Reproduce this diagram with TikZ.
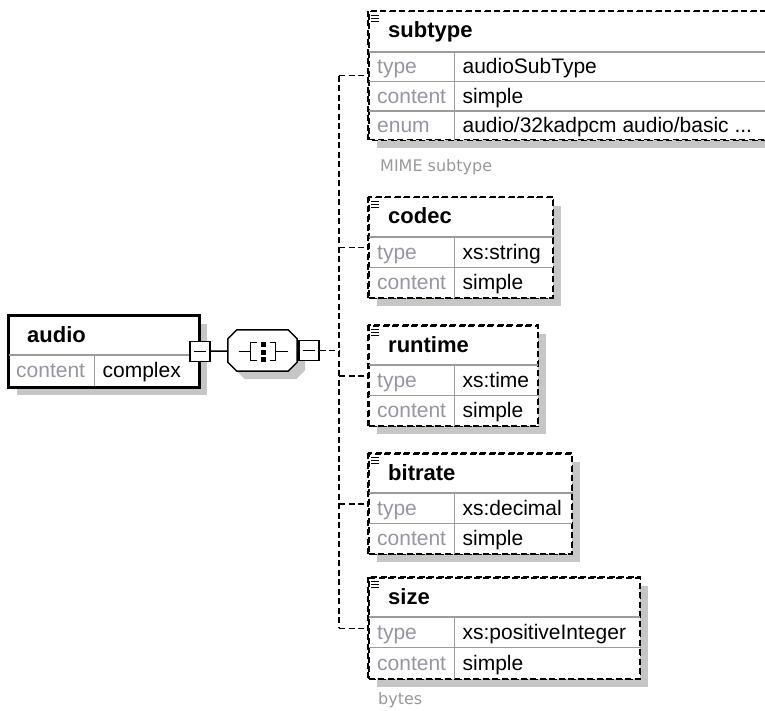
\documentclass[tikz,border=0pt]{standalone}
\usepackage{fontspec}
\setmainfont{Liberation Sans}
\newfontfamily\notefont{DejaVu Sans}
\usetikzlibrary{positioning, calc, shadows}
\definecolor{Keygray}{RGB}{150,150,162}
\definecolor{Gridgray}{RGB}{155,155,155}
\definecolor{Shadegray}{RGB}{198,198,198}

\begin{document}
\begin{tikzpicture}[x=1pt, y=-1pt,
    shade8/.style={drop shadow={shadow xshift=8pt, shadow yshift=-8pt,
                   fill=Shadegray, draw=none, opacity=1}},
    elem/.style={rectangle, draw=black, line width=1.5pt,
                 dash pattern=on 6pt off 3.5pt, fill=white,
                 inner sep=0pt, anchor=north west, shade8},
    mainelem/.style={rectangle, draw=black, line width=1.8pt, fill=white,
                 inner sep=0pt, anchor=north west, shade8},
    outline/.style={draw=black, line width=1.5pt, dash pattern=on 6pt off 3.5pt},
    mainline/.style={draw=black, line width=1.8pt},
    ttl/.style={font=\fontsize{22}{26}\selectfont\bfseries,
                anchor=base west, inner sep=0pt},
    keyc/.style={anchor=north west, text width=68pt, inner xsep=9pt,
                 inner ysep=0pt, minimum height=30pt, text height=16pt,
                 text depth=2pt, align=left, text=Keygray,
                 font=\fontsize{21}{25}\selectfont},
    valc/.style={anchor=north west, inner xsep=8pt, inner ysep=0pt,
                 minimum height=30pt, text height=16pt, text depth=2pt,
                 font=\fontsize{21}{25}\selectfont},
    grid/.style={draw=Gridgray, line width=1.5pt},
    icon/.style={line width=0.9pt},
    note/.style={font=\notefont\fontsize{16}{19}\selectfont,
                 text=gray!80, inner sep=0pt},
    pm/.style={rectangle, draw=black, line width=1.5pt, fill=white,
               minimum size=20pt, inner sep=0pt,
               path picture={\draw[line width=1.5pt]
                 ([xshift=4pt]path picture bounding box.west) --
                 ([xshift=-4pt]path picture bounding box.east);}},
    seqbox/.style={rectangle, minimum width=69pt, minimum height=41pt,
                   inner sep=0pt},
    link/.style={line width=1.5pt},
    bus/.style={line width=1.5pt, dash pattern=on 6pt off 3.5pt}]

  \useasboundingbox (0,0) rectangle (765,711);

  %--- audio ---
  \node[mainelem, minimum width=190pt, minimum height=71pt] (audio) at (8,315) {};
  \node[ttl] (audio-t) at (27,342) {audio};
  \node[keyc, text width=70pt, inner xsep=8pt, minimum height=31pt] (audio-k1) at (8,355) {content};
  \node[valc, minimum height=31pt] (audio-v1) at (audio-k1.north east) {complex};
  \draw[grid] (audio-k1.north west) -- (audio-k1.north west -| audio.east);
  \draw[grid] (audio-k1.north east) -- (audio-k1.south east);
  \draw[mainline] (audio.north west) rectangle (audio.south east);
  \node[pm] (audio-pm) at (audio.east) {};

  %--- sequence ---
  \node[seqbox] (seq) at (262.5,350.5) {};
  \filldraw[link, fill=white, shade8]
    ($(seq.north west)+(0,9)$) -- ($(seq.north west)+(9,0)$) --
    ($(seq.north east)+(-9,0)$) -- ($(seq.north east)+(0,9)$) --
    ($(seq.south east)+(0,-9)$) -- ($(seq.south east)+(-9,0)$) --
    ($(seq.south west)+(9,0)$) -- ($(seq.south west)+(0,-9)$) -- cycle;
  \draw[link] ($(seq)+(-24,1)$) -- ($(seq)+(-12,1)$);
  \draw[link] ($(seq)+(-6,-8)$) -- ($(seq)+(-12,-8)$) -- ($(seq)+(-12,10)$) -- ($(seq)+(-6,10)$);
  \draw[link] ($(seq)+(7,-8)$) -- ($(seq)+(13,-8)$) -- ($(seq)+(13,10)$) -- ($(seq)+(7,10)$);
  \draw[link] ($(seq)+(13,1)$) -- ($(seq)+(25,1)$);
  \foreach \dy in {-6,1.5,9}
    \fill ($(seq)+(-1.5,\dy-2.5)$) rectangle ($(seq)+(3.5,\dy+2.5)$);
  \node[pm, right=1pt of seq] (seq-pm) {};
  \draw[link] (audio-pm) -- (seq);

  %--- subtype ---
  \node[elem, minimum width=410pt, minimum height=128pt] (sub) at (368,11) {};
  \node[ttl] (sub-t) at (388,38) {subtype};
  \node[keyc, minimum height=29pt] (sub-k1) at (368,52) {type};
  \node[keyc, minimum height=29pt, below=0pt of sub-k1] (sub-k2) {content};
  \node[keyc, minimum height=29pt, below=0pt of sub-k2] (sub-k3) {enum};
  \node[valc, minimum height=29pt] (sub-v1) at (sub-k1.north east) {audioSubType};
  \node[valc, minimum height=29pt] (sub-v2) at (sub-k2.north east) {simple};
  \node[valc, minimum height=29pt] (sub-v3) at (sub-k3.north east) {audio/32kadpcm audio/basic ...};
  \node[note, below right=19pt and 12pt of sub.south west] (sub-note) {MIME subtype};

  %--- codec ---
  \node[elem, minimum width=184pt, minimum height=100pt] (codec) at (368,197) {};
  \node[ttl] (codec-t) at (388,224) {codec};
  \node[keyc] (codec-k1) at (368,237) {type};
  \node[keyc, below=0pt of codec-k1] (codec-k2) {content};
  \node[valc] (codec-v1) at (codec-k1.north east) {xs:string};
  \node[valc] (codec-v2) at (codec-k2.north east) {simple};

  %--- runtime ---
  \node[elem, minimum width=169pt, minimum height=100pt] (run) at (368,325) {};
  \node[ttl] (run-t) at (388,352) {runtime};
  \node[keyc] (run-k1) at (368,365) {type};
  \node[keyc, below=0pt of run-k1] (run-k2) {content};
  \node[valc] (run-v1) at (run-k1.north east) {xs:time};
  \node[valc] (run-v2) at (run-k2.north east) {simple};

  %--- bitrate ---
  \node[elem, minimum width=203pt, minimum height=100pt] (bit) at (368,453) {};
  \node[ttl] (bit-t) at (388,480) {bitrate};
  \node[keyc] (bit-k1) at (368,493) {type};
  \node[keyc, below=0pt of bit-k1] (bit-k2) {content};
  \node[valc] (bit-v1) at (bit-k1.north east) {xs:decimal};
  \node[valc] (bit-v2) at (bit-k2.north east) {simple};

  %--- size ---
  \node[elem, minimum width=271pt, minimum height=101pt] (size) at (368,577) {};
  \node[ttl] (size-t) at (388,604) {size};
  \node[keyc] (size-k1) at (368,617) {type};
  \node[keyc, below=0pt of size-k1, minimum height=31pt] (size-k2) {content};
  \node[valc] (size-v1) at (size-k1.north east) {xs:positiveInteger};
  \node[valc, minimum height=31pt] (size-v2) at (size-k2.north east) {simple};
  \node[note, below right=13pt and 10pt of size.south west] (size-note) {bytes};

  %--- grid lines and list icons ---
  \foreach \e/\rows/\last in {sub/{k1,k2,k3}/k3, codec/{k1,k2}/k2,
                              run/{k1,k2}/k2, bit/{k1,k2}/k2, size/{k1,k2}/k2} {
    \foreach \r in \rows
      \draw[grid] (\e-\r.north west) -- (\e-\r.north west -| \e.east);
    \draw[grid] (\e-k1.north east) -- (\e-\last.south east);
    \draw[outline] (\e.north west) rectangle (\e.south east);
    \foreach \dy in {4,7,10}
      \draw[icon] ($(\e.north west)+(3,\dy)$) -- ++(8,0);
  }

  %--- connectors ---
  \draw[link] (seq) -- (seq-pm);
  \coordinate (bus-mid) at (339,350.5);
  \draw[bus] (seq-pm) -- (bus-mid);
  \foreach \e in {sub,codec,run,bit,size}
    \coordinate (bus-\e) at (bus-mid |- \e.west);
  \draw[bus] (bus-sub) -- (bus-size);
  \foreach \e in {sub,codec,run,bit,size}
    \draw[bus] (bus-\e) -- (\e.west);
\end{tikzpicture}
\end{document}
